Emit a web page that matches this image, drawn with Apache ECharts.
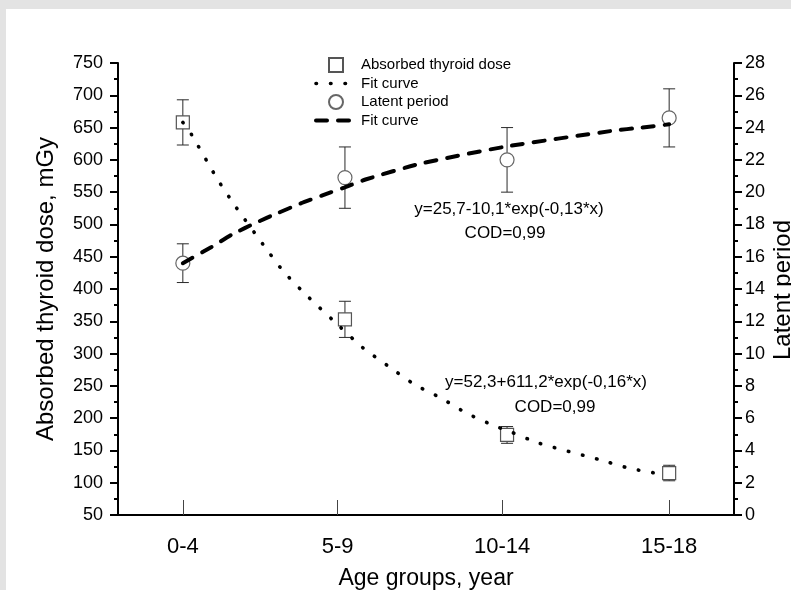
<!DOCTYPE html>
<html>
<head>
<meta charset="utf-8">
<script src="https://cdn.jsdelivr.net/npm/echarts@6/dist/echarts.min.js"></script>
<style>
  html, body { margin: 0; padding: 0; background: #e3e3e3; width: 791px; height: 590px; overflow: hidden; }
  #paper { position: absolute; left: 6px; top: 9px; width: 785px; height: 581px; background: #ffffff; }
  #c { position: absolute; left: 0; top: 0; width: 791px; height: 590px; }
</style>
</head>
<body>
<div id="paper"></div>
<div id="c"></div>
<script>
// ---- data ----
const categories = ['0-4', '5-9', '10-14', '15-18'];
const groupX = [1, 2, 3, 4];
const tickX = [1, 1.955, 2.97, 4.0];

const dose = [658, 353, 174, 115];
const doseErr = [35, 28, 13, 12];
const latent = [15.6, 20.9, 22.0, 24.6];
const latentErr = [1.2, 1.9, 2.0, 1.8];

const doseFitX = [1.0, 1.054, 1.211, 1.327, 1.495, 1.618, 1.756, 1.967, 2.11, 2.265, 2.43, 2.594, 2.748, 2.922, 3.0, 3.2, 3.58, 3.76, 3.96];
const doseFitY = [658, 639, 571, 527, 469, 428, 392, 342, 309, 281, 252, 231, 208, 188, 181, 161, 135, 122, 113];

const latFitX = [1.0, 1.177, 1.308, 1.45, 1.585, 1.727, 1.861, 2.0, 2.132, 2.46, 2.98, 3.65, 3.83, 4.0];
const latFitY = [15.6, 16.6, 17.4, 18.1, 18.7, 19.3, 19.8, 20.3, 20.8, 21.75, 22.8, 23.8, 24.0, 24.2];

const eq1 = ['y=25,7-10,1*exp(-0,13*x)', 'COD=0,99'];
const eq2 = ['y=52,3+611,2*exp(-0,16*x)', 'COD=0,99'];
const rightTitle = 'Latent period';

const FONT = '"Liberation Sans", Arial, sans-serif';

function zip(xs, ys) { return xs.map((x, i) => [x, ys[i]]); }

function errRender(params, api) {
  const x = api.value(0), y = api.value(1), e = api.value(2);
  const top = api.coord([x, y + e]);
  const bot = api.coord([x, y - e]);
  const hw = 6;
  const st = { stroke: '#2a2a2a', lineWidth: 1 };
  return {
    type: 'group',
    children: [
      { type: 'line', shape: { x1: top[0], y1: top[1], x2: bot[0], y2: bot[1] }, style: st },
      { type: 'line', shape: { x1: top[0] - hw, y1: top[1], x2: top[0] + hw, y2: top[1] }, style: st },
      { type: 'line', shape: { x1: bot[0] - hw, y1: bot[1], x2: bot[0] + hw, y2: bot[1] }, style: st }
    ]
  };
}

const dotStyle = { color: '#000', width: 3.6, type: [0.5, 14], cap: 'round' };
const dashStyle = { color: '#000', width: 4, type: [11, 11], cap: 'round' };

const chart = echarts.init(document.getElementById('c'), null, { renderer: 'canvas' });

const option = {
  backgroundColor: 'transparent',
  animation: false,
  textStyle: { fontFamily: FONT },
  grid: { left: 118, top: 63, right: 57, bottom: 75, outerBoundsMode: 'none', containLabel: false },
  legend: {
    left: 314, top: 57, orient: 'vertical', padding: 0,
    itemWidth: 40, itemHeight: 14, itemGap: 3,
    selectedMode: false,
    textStyle: { fontSize: 15, color: '#000', fontFamily: FONT, lineHeight: 14 },
    formatter: n => n.indexOf('Fit') === 0 ? 'Fit curve' : n,
    data: [
      { name: 'Absorbed thyroid dose', icon: 'path://M0,0H10V10H0Z' },
      { name: 'Fit curve (dose)', itemStyle: { opacity: 0 }, lineStyle: dotStyle },
      { name: 'Latent period', icon: 'circle' },
      { name: 'Fit curve (latent)', itemStyle: { opacity: 0 }, lineStyle: dashStyle }
    ]
  },
  xAxis: {
    type: 'value', min: 0.6, max: 4.4,
    name: 'Age groups, year', nameLocation: 'middle', nameGap: 52,
    nameTextStyle: { fontSize: 23, color: '#000', fontFamily: FONT },
    splitLine: { show: false },
    axisLine: { lineStyle: { color: '#000', width: 2 } },
    axisTick: { inside: true, length: 15, customValues: tickX, lineStyle: { color: '#444', width: 1 } },
    axisLabel: {
      customValues: tickX, margin: 21, fontSize: 22, color: '#000', fontFamily: FONT,
      formatter: v => {
        let best = 0, d = 1e9;
        tickX.forEach((t, i) => { if (Math.abs(t - v) < d) { d = Math.abs(t - v); best = i; } });
        return categories[best];
      }
    }
  },
  yAxis: [
    {
      type: 'value', min: 50, max: 750, interval: 50, position: 'left',
      name: 'Absorbed thyroid dose, mGy', nameLocation: 'middle', nameGap: 60,
      nameTextStyle: { fontSize: 24, color: '#000', fontFamily: FONT },
      splitLine: { show: false },
      axisLine: { show: true, lineStyle: { color: '#000', width: 2 } },
      axisTick: { show: true, length: 8, lineStyle: { color: '#000', width: 2 } },
      minorTick: { show: true, splitNumber: 2, length: 4, lineStyle: { color: '#000', width: 2 } },
      axisLabel: { margin: 15, fontSize: 18, color: '#000', fontFamily: FONT }
    },
    {
      type: 'value', min: 0, max: 28, interval: 2, position: 'right',
      splitLine: { show: false },
      axisLine: { show: true, lineStyle: { color: '#000', width: 2 } },
      axisTick: { show: true, length: 8, lineStyle: { color: '#000', width: 2 } },
      minorTick: { show: true, splitNumber: 2, length: 4, lineStyle: { color: '#000', width: 2 } },
      axisLabel: { margin: 11, fontSize: 18, color: '#000', fontFamily: FONT }
    }
  ],
  graphic: [
    { type: 'text', z: 10, style: { text: eq1[0], x: 509, y: 209, align: 'center', verticalAlign: 'middle', fontSize: 17, fontFamily: FONT, fill: '#000' } },
    { type: 'text', z: 10, style: { text: eq1[1], x: 505, y: 233, align: 'center', verticalAlign: 'middle', fontSize: 17, fontFamily: FONT, fill: '#000' } },
    { type: 'text', z: 10, style: { text: eq2[0], x: 546, y: 382, align: 'center', verticalAlign: 'middle', fontSize: 17, fontFamily: FONT, fill: '#000' } },
    { type: 'text', z: 10, style: { text: eq2[1], x: 555, y: 407, align: 'center', verticalAlign: 'middle', fontSize: 17, fontFamily: FONT, fill: '#000' } },
    { type: 'text', z: 10, x: 783, y: 290, rotation: Math.PI / 2,
      style: { text: rightTitle, x: 0, y: 0, align: 'center', verticalAlign: 'middle', fontSize: 24, fontFamily: FONT, fill: '#000' } }
  ],
  series: [
    {
      type: 'custom', name: 'doseErr', yAxisIndex: 0, z: 2, silent: true,
      renderItem: errRender,
      encode: { x: 0, y: 1 },
      data: groupX.map((x, i) => [x, dose[i], doseErr[i]])
    },
    {
      type: 'custom', name: 'latErr', yAxisIndex: 1, z: 2, silent: true,
      renderItem: errRender,
      encode: { x: 0, y: 1 },
      data: groupX.map((x, i) => [x, latent[i], latentErr[i]])
    },
    {
      type: 'scatter', name: 'Absorbed thyroid dose', yAxisIndex: 0, z: 3,
      symbol: 'rect', symbolSize: [13, 13],
      itemStyle: { color: '#fff', borderColor: '#555', borderWidth: 1.2, opacity: 1 },
      data: zip(groupX, dose)
    },
    {
      type: 'scatter', name: 'Latent period', yAxisIndex: 1, z: 3,
      symbol: 'circle', symbolSize: 14,
      itemStyle: { color: '#fff', borderColor: '#666', borderWidth: 1.2, opacity: 1 },
      data: zip(groupX, latent)
    },
    {
      type: 'line', name: 'Fit curve (dose)', yAxisIndex: 0, z: 4,
      symbol: 'none', smooth: 0.2,
      itemStyle: { color: '#000' },
      lineStyle: dotStyle,
      data: zip(doseFitX, doseFitY)
    },
    {
      type: 'line', name: 'Fit curve (latent)', yAxisIndex: 1, z: 4,
      symbol: 'none', smooth: 0.2,
      itemStyle: { color: '#000' },
      lineStyle: dashStyle,
      data: zip(latFitX, latFitY)
    }
  ]
};

chart.setOption(option);
</script>
</body>
</html>
